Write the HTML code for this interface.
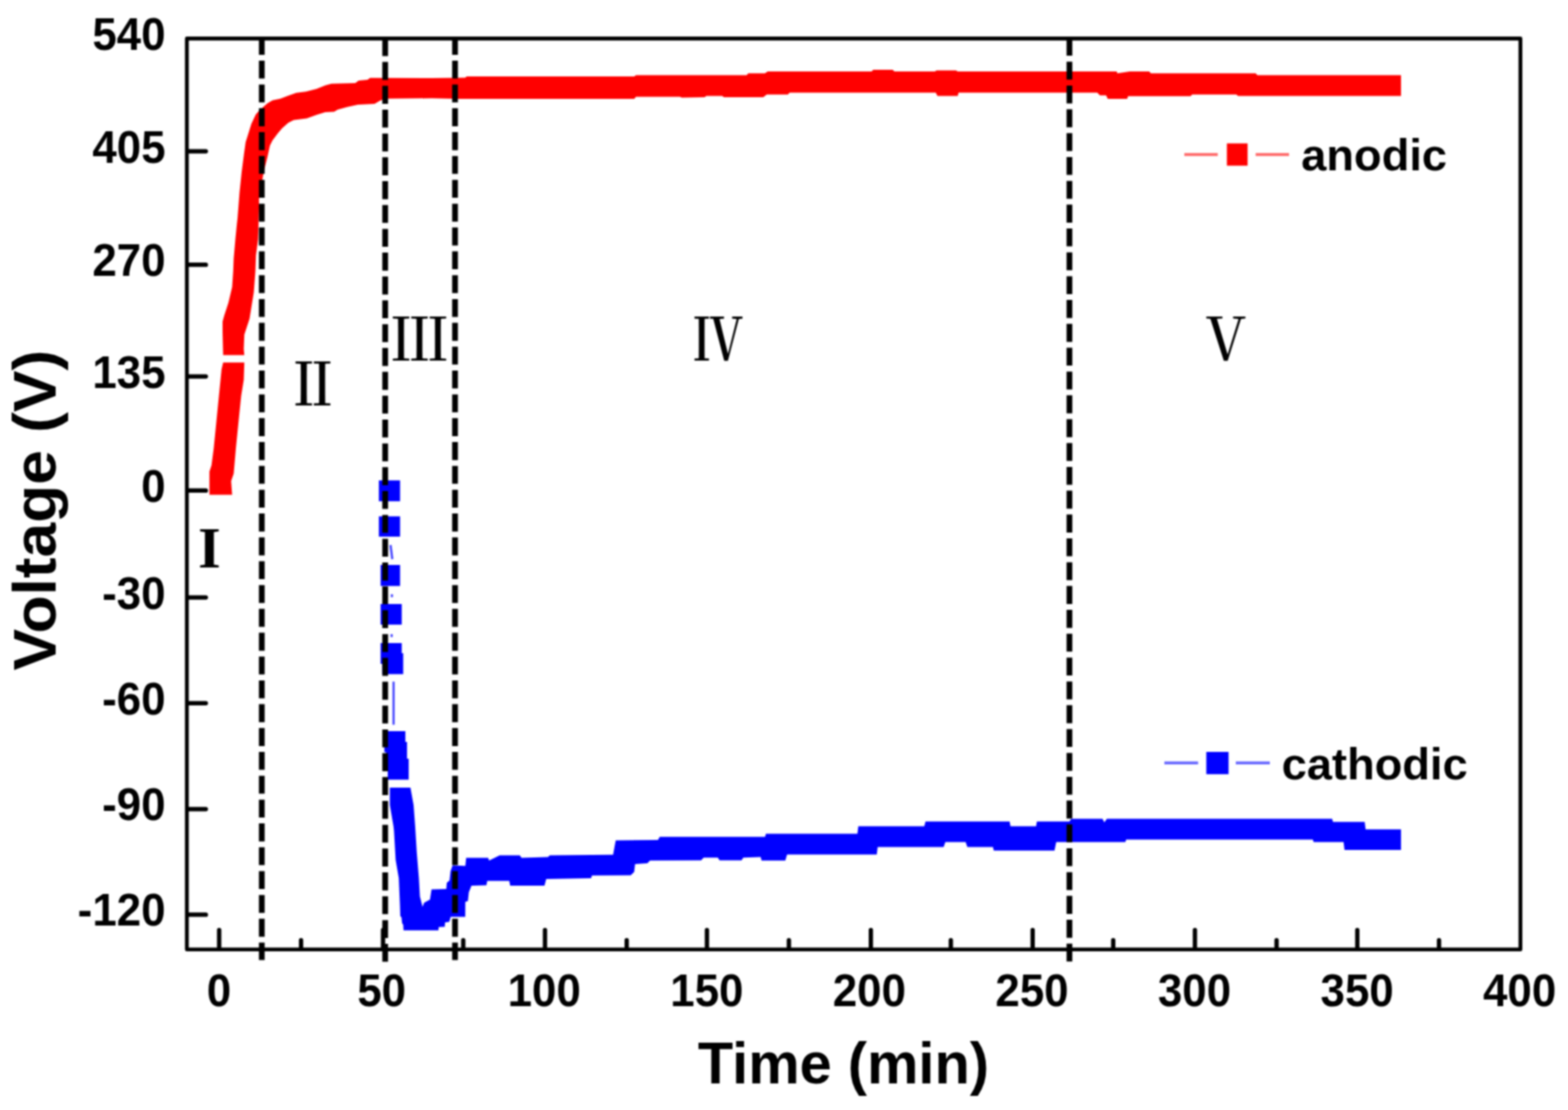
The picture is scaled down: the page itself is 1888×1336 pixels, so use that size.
<!DOCTYPE html>
<html lang="en"><head><meta charset="utf-8"><title>Voltage vs Time</title>
<style>html,body{margin:0;padding:0;background:#fff;overflow:hidden}svg{display:block}.s{font-family:"Liberation Sans",sans-serif;font-weight:bold;fill:#000}.r{font-family:"Liberation Serif","Noto Serif CJK SC",serif;fill:#000}</style></head><body>
<svg width="1888" height="1336" viewBox="0 0 1888 1336">
<defs><filter id="soft" x="0" y="0" width="1888" height="1336" filterUnits="userSpaceOnUse" color-interpolation-filters="sRGB"><feConvolveMatrix order="5" kernelMatrix="1 4 6 4 1 4 16 24 16 4 6 24 36 24 6 4 16 24 16 4 1 4 6 4 1" divisor="256" edgeMode="duplicate" preserveAlpha="true"/></filter></defs>
<g filter="url(#soft)">
<rect width="1888" height="1336" fill="#fff"/>
<g id="curves">
<polygon fill="#f00" points="252.2,595.6 252.2,567.6 254.7,560.0 257.3,540.0 261.1,501.8 263.6,476.4 266.8,444.5 268.7,436.3 268.7,427.4 268.0,400.0 268.0,387.0 270.0,379.8 275.0,364.5 279.5,345.4 280.8,326.4 281.4,311.0 283.4,288.2 285.3,269.0 286.0,263.0 288.4,232.0 291.0,207.0 293.7,186.0 295.8,171.1 298.5,162.6 302.7,148.9 308.0,137.7 312.2,133.0 321.8,124.5 328.1,120.8 337.7,118.7 346.1,115.5 356.7,111.8 368.4,110.2 381.1,107.0 391.7,102.8 399.1,100.7 427.7,100.1 431.9,96.9 442.5,95.9 445.7,93.8 520.0,94.0 560.0,93.6 562.0,92.0 763.6,92.0 765.8,90.4 899.0,90.4 901.0,88.3 921.0,88.3 924.4,86.1 1049.4,86.1 1051.5,84.0 1074.8,84.0 1077.0,86.1 1125.6,86.1 1127.8,84.7 1151.0,84.7 1153.2,86.1 1344.5,86.1 1345.5,88.3 1360.4,86.1 1383.7,86.1 1385.8,88.3 1511.9,88.3 1514.0,90.4 1686.9,90.4 1686.9,115.4 1490.7,115.4 1488.6,113.7 1435.6,113.7 1433.5,115.8 1358.3,115.8 1357.2,119.0 1333.9,119.0 1331.8,114.7 1324.4,114.7 1321.2,111.6 1154.2,111.6 1153.2,115.4 1128.8,115.4 1126.7,111.6 950.8,111.6 948.7,113.7 923.3,113.7 919.0,116.9 871.7,117.0 869.6,115.4 850.5,115.4 848.4,117.0 821.0,117.5 818.7,116.4 765.8,116.4 763.6,119.0 551.8,119.0 520.0,118.3 463.7,118.7 457.4,121.3 451.0,125.0 430.9,126.1 418.2,128.7 406.5,131.9 402.3,134.6 391.7,135.1 381.1,138.3 369.4,142.5 353.6,144.6 347.2,147.8 339.8,154.2 334.5,160.5 328.1,169.0 325.0,175.3 321.8,190.0 317.5,207.0 311.8,240.0 312.0,250.0 310.7,288.2 308.2,307.3 307.5,326.4 305.6,351.8 300.5,383.6 294.2,402.7 293.5,420.0 294.2,427.4 294.2,436.3 293.5,457.3 290.4,476.4 287.8,501.8 284.0,540.0 281.4,570.0 278.3,579.0 279.5,595.6"/>
<rect x="264.0" y="427.4" width="34.0" height="8.9" fill="#fff"/>
<g stroke="#00f" stroke-opacity="0.75" stroke-width="2.6" fill="none"><path d="M470.2 656 L472.4 673"/><path d="M471.9 715.3v3.4"/><path d="M471.6 763.3v3.4"/><path d="M473.9 820.4V872.3"/></g>
<rect x="456.2" y="578.2" width="25.5" height="25.1" fill="#00f"/>
<rect x="456.2" y="621.5" width="25.5" height="24.4" fill="#00f"/>
<rect x="458.3" y="680.0" width="23.4" height="25.3" fill="#00f"/>
<rect x="458.3" y="727.0" width="25.4" height="24.8" fill="#00f"/>
<rect x="458.3" y="774.0" width="25.4" height="25.0" fill="#00f"/>
<rect x="460.4" y="786.2" width="25.1" height="25.2" fill="#00f"/>
<rect x="462.8" y="880.0" width="25.3" height="25.3" fill="#00f"/>
<rect x="464.8" y="893.0" width="25.3" height="25.0" fill="#00f"/>
<rect x="466.9" y="913.2" width="25.2" height="25.2" fill="#00f"/>
<polygon fill="#00f" points="469.4,948.1 469.4,969.0 473.8,994.5 474.4,1000.0 476.4,1035.0 480.2,1057.0 481.6,1090.0 482.0,1102.7 483.4,1104.0 484.2,1111.2 485.5,1113.0 485.9,1119.7 527.9,1119.7 528.3,1115.8 535.5,1115.4 535.9,1110.3 541.0,1109.5 542.7,1103.6 560.2,1103.6 560.3,1085.6 563.4,1084.5 564.5,1074.0 567.7,1066.1 585.7,1065.5 586.7,1060.2 613.2,1060.2 614.3,1066.1 655.6,1066.1 657.7,1058.0 711.7,1057.0 712.8,1053.8 759.4,1053.4 763.6,1049.6 764.7,1040.0 779.5,1039.0 782.7,1035.8 844.2,1035.4 847.3,1032.2 864.3,1032.2 866.4,1035.4 892.9,1035.4 895.0,1032.2 915.9,1031.6 917.0,1035.8 945.6,1035.8 947.7,1028.4 1055.7,1028.4 1056.8,1019.5 1136.2,1019.5 1138.3,1013.6 1162.7,1013.6 1164.8,1019.5 1195.6,1019.5 1196.6,1023.7 1269.7,1023.7 1271.8,1013.6 1355.0,1013.6 1356.0,1010.4 1580.7,1010.4 1581.8,1013.6 1617.8,1013.6 1618.9,1023.1 1686.9,1023.1 1686.9,998.3 1644.3,998.3 1643.2,989.2 1605.0,989.2 1604.0,985.6 1332.8,985.6 1329.7,989.8 1327.5,985.6 1289.8,985.6 1287.7,988.8 1248.5,988.8 1247.5,994.5 1216.7,994.5 1215.7,988.8 1114.4,988.8 1112.9,994.5 1033.5,994.5 1032.4,1003.4 922.2,1003.4 921.2,1007.2 794.4,1007.2 792.2,1011.0 741.4,1011.4 738.2,1028.8 662.0,1029.4 659.8,1031.6 628.0,1032.6 625.9,1029.4 601.6,1029.4 588.9,1035.8 587.8,1032.6 561.3,1032.6 560.3,1042.2 545.0,1041.4 542.5,1048.4 541.3,1059.8 538.0,1062.4 537.4,1070.0 519.6,1070.6 517.7,1082.7 510.7,1086.5 508.8,1091.6 505.6,1078.9 504.4,1057.3 501.8,1025.5 499.9,994.5 498.0,969.0 494.2,948.1"/>
</g>
<g stroke="#000" stroke-width="6.9" stroke-dasharray="21.6 7.09" fill="none">
<path d="M315.2 44.3V1155.6"/>
<path d="M463.8 45.9V1157.6"/>
<path d="M547.9 44.3V1155.6"/>
<path d="M1287.7 45.5V1157.3"/>
</g>
<g stroke="#000" stroke-width="4.6" fill="none">
<rect x="225.0" y="46.4" width="1605.7" height="1096.3" stroke-linejoin="round"/>
<path stroke-width="5.2" stroke-linecap="round" d="M226.0 182.1H247.9M226.0 318.7H247.9M226.0 453.1H247.9M226.0 590.4H247.9M226.0 719.1H247.9M226.0 846.3H247.9M226.0 973.8H247.9M226.0 1100.9H247.9M263.9 1141.7V1119.3M461.2 1141.7V1119.3M656.2 1141.7V1119.3M851.2 1141.7V1119.3M1048.6 1141.7V1119.3M1243.4 1141.7V1119.3M1438.8 1141.7V1119.3M1634.3 1141.7V1119.3M362.5 1141.7V1131.6M557.8 1141.7V1131.6M754.6 1141.7V1131.6M949.9 1141.7V1131.6M1144.9 1141.7V1131.6M1340.4 1141.7V1131.6M1537.1 1141.7V1131.6M1732.7 1141.7V1131.6"/>
</g>
<g class="s" font-size="54.9" text-anchor="end">
<text transform="translate(199.3 59.8) scale(0.962 1)">540</text>
<text transform="translate(199.3 195.5) scale(0.962 1)">405</text>
<text transform="translate(199.3 332.1) scale(0.962 1)">270</text>
<text transform="translate(199.3 466.5) scale(0.962 1)">135</text>
<text transform="translate(199.3 603.8) scale(0.962 1)">0</text>
<text transform="translate(199.3 732.5) scale(0.962 1)">-30</text>
<text transform="translate(199.3 859.7) scale(0.962 1)">-60</text>
<text transform="translate(199.3 987.2) scale(0.962 1)">-90</text>
<text transform="translate(199.3 1114.3) scale(0.962 1)">-120</text>
</g>
<g class="s" font-size="54.9" text-anchor="middle">
<text transform="translate(263.8 1211.0) scale(0.962 1)">0</text>
<text transform="translate(459.6 1211.0) scale(0.962 1)">50</text>
<text transform="translate(655.3 1211.0) scale(0.962 1)">100</text>
<text transform="translate(851.1 1211.0) scale(0.962 1)">150</text>
<text transform="translate(1046.8 1211.0) scale(0.962 1)">200</text>
<text transform="translate(1242.6 1211.0) scale(0.962 1)">250</text>
<text transform="translate(1438.3 1211.0) scale(0.962 1)">300</text>
<text transform="translate(1634.1 1211.0) scale(0.962 1)">350</text>
<text transform="translate(1829.8 1211.0) scale(0.962 1)">400</text>
</g>
<text class="s" font-size="71" text-anchor="middle" transform="translate(1015.6 1304.4) scale(0.98 1)">Time (min)</text>
<text class="s" font-size="73" text-anchor="middle" transform="translate(67.2 614.0) rotate(-90) scale(1.027 1)">Voltage (V)</text>
<g id="legend">
<path d="M1426 186H1466.3M1511.9 186H1552.1" stroke="#f00" stroke-opacity="0.6" stroke-width="3.4"/>
<rect x="1477.3" y="172.6" width="24.9" height="26.8" fill="#f00"/>
<text class="s" font-size="53" transform="translate(1566.8 204.8) scale(1.028 1)">anodic</text>
<path d="M1402 918.3H1442.6M1488 918.3H1529" stroke="#00f" stroke-opacity="0.6" stroke-width="3.4"/>
<rect x="1452.5" y="905" width="26.8" height="26.8" fill="#00f"/>
<text class="s" font-size="53" transform="translate(1543.2 937.5) scale(1.028 1)">cathodic</text>
</g>
<text class="r" font-size="70" font-weight="bold" text-anchor="middle" x="252.2" y="682.5">I</text>
<g class="r" font-size="70.7" font-weight="500" text-anchor="middle">
<text font-weight="600" transform="translate(376.8 487.5) scale(0.90 1)">Ⅱ</text>
<text transform="translate(505.2 433.6) scale(1.0 1)">Ⅲ</text>
<text font-weight="600" transform="translate(864.8 433.7) scale(0.851 1)">Ⅳ</text>
<text transform="translate(1476.2 433.7) scale(1.022 1)">Ⅴ</text>
</g>
</g>
</svg></body></html>
